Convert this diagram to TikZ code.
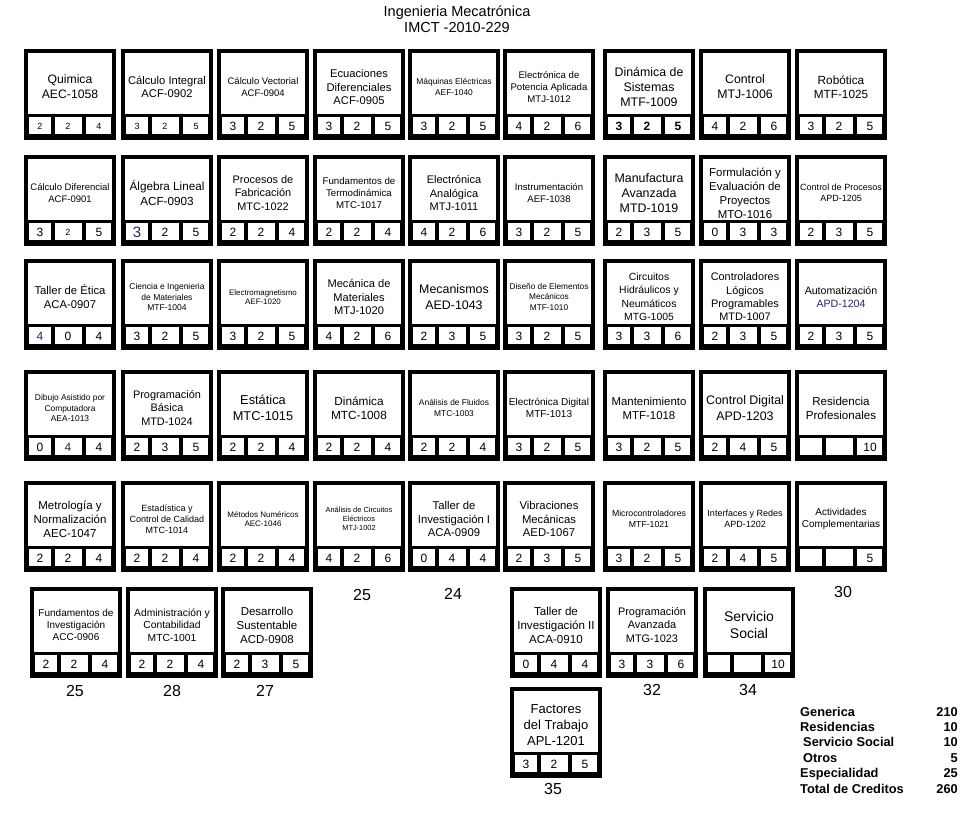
\documentclass[tikz,border=0pt]{standalone}
\usepackage{fontspec}
\setmainfont{Liberation Sans}
\definecolor{tinta}{RGB}{30,40,110}

\tikzset{
  boxtext/.style={align=center, inner sep=0pt},
  cellnum/.style={font=\fontsize{12pt}{13pt}\selectfont, inner sep=0pt},
  total/.style={font=\fontsize{16pt}{18pt}\selectfont, inner sep=0pt},
  legend/.style={font=\bfseries\fontsize{12.8pt}{14pt}\selectfont, inner sep=0pt},
}

\newcommand{\chico}[1]{{\fontsize{9pt}{10pt}\selectfont #1}}

% #1 name, #2 x, #3 y, #4 font size, #5 text, #6-#8 credits
\newcommand{\materia}[8]{%
  \fill (#2,#3) rectangle ++(92,91);
  \fill[white] (#2+4,#3+4) rectangle (#2+88,#3+65);
  \fill[white] (#2+5,#3+68) rectangle (#2+27,#3+85);
  \fill[white] (#2+31,#3+68) rectangle (#2+58,#3+85);
  \fill[white] (#2+62,#3+68) rectangle (#2+87,#3+85);
  \node[boxtext, font=\fontsize{#4pt}{\dimexpr #4pt*122/100\relax}\selectfont] (#1) at (#2+46,#3+38) {#5};
  \node[cellnum] (#1-a) at (#2+16,#3+77) {#6};
  \node[cellnum] (#1-b) at (#2+44,#3+77) {#7};
  \node[cellnum] (#1-c) at (#2+75,#3+77) {#8};
}

\begin{document}
\begin{tikzpicture}[x=1pt, y=-1pt]
  \useasboundingbox (0,0) rectangle (973,815);

  \node[font=\fontsize{14.5pt}{16pt}\selectfont, align=center] (titulo) at (457,19) {Ingenieria Mecatrónica\\IMCT -2010-229};

  % semestre 1
  \materia{qui}{24}{49}{12.2}{Quimica\\AEC-1058}{\chico{2}}{\chico{2}}{\chico{4}}
  \materia{cint}{121}{49}{11.2}{Cálculo Integral\\ACF-0902}{\chico{3}}{\chico{2}}{\chico{5}}
  \materia{cvec}{217}{49}{9.5}{Cálculo Vectorial\\ACF-0904}{3}{2}{5}
  \materia{ecd}{313}{49}{11.2}{Ecuaciones\\Diferenciales\\ACF-0905}{3}{2}{5}
  \materia{maq}{408}{49}{8.4}{Máquinas Eléctricas\\AEF-1040}{3}{2}{5}
  \materia{epot}{503}{49}{9.6}{Electrónica de\\Potencia Aplicada\\MTJ-1012}{4}{2}{6}
  \materia{dsis}{603}{49}{12.4}{Dinámica de\\Sistemas\\MTF-1009}{\textbf{3}}{\textbf{2}}{\textbf{5}}
  \materia{ctrl}{699}{49}{12.3}{Control\\MTJ-1006}{4}{2}{6}
  \materia{robo}{795}{49}{11.8}{Robótica\\MTF-1025}{3}{2}{5}

  % semestre 2
  \materia{cdif}{24}{155}{9.5}{Cálculo Diferencial\\ACF-0901}{3}{\chico{2}}{5}
  \materia{alg}{121}{155}{11.7}{Álgebra Lineal\\ACF-0903}{\textcolor{tinta}{\fontsize{15pt}{16pt}\selectfont 3}}{2}{5}
  \materia{pfab}{217}{155}{10.9}{Procesos de\\Fabricación\\MTC-1022}{2}{2}{4}
  \materia{term}{313}{155}{9.7}{Fundamentos de\\Termodinámica\\MTC-1017}{2}{2}{4}
  \materia{eana}{408}{155}{11}{Electrónica\\Analógica\\MTJ-1011}{4}{2}{6}
  \materia{inst}{503}{155}{9.6}{Instrumentación\\AEF-1038}{3}{2}{5}
  \materia{manu}{603}{155}{12.4}{Manufactura\\Avanzada\\MTD-1019}{2}{3}{5}
  \materia{form}{699}{155}{11.4}{Formulación y\\Evaluación de\\Proyectos\\MTO-1016}{0}{3}{3}
  \materia{cpro}{795}{155}{9}{Control de Procesos\\APD-1205}{2}{3}{5}

  % semestre 3
  \materia{etic}{24}{259}{11.3}{Taller de Ética\\ACA-0907}{\textcolor{tinta}{4}}{0}{4}
  \materia{cmat}{121}{259}{8.5}{Ciencia e Ingenieria\\de Materiales\\MTF-1004}{3}{2}{5}
  \materia{emag}{217}{259}{7.9}{Electromagnetismo\\AEF-1020}{3}{2}{5}
  \materia{mmat}{313}{259}{11.1}{Mecánica de\\Materiales\\MTJ-1020}{4}{2}{6}
  \materia{meca}{408}{259}{12.4}{Mecanismos\\AED-1043}{2}{3}{5}
  \materia{dele}{503}{259}{8.3}{Diseño de Elementos\\Mecánicos\\MTF-1010}{3}{2}{5}
  \materia{chid}{603}{259}{10.4}{Circuitos\\[0.8pt]Hidráulicos y\\[0.8pt]Neumáticos\\[0.8pt]MTG-1005}{3}{3}{6}
  \materia{plc}{699}{259}{10.9}{Controladores\\Lógicos\\Programables\\MTD-1007}{2}{3}{5}
  \materia{auto}{795}{259}{10.6}{Automatización\\\textcolor{tinta}{APD-1204}}{2}{3}{5}

  % semestre 4
  \materia{dibu}{24}{370}{8.4}{Dibujo Asistido por\\Computadora\\AEA-1013}{0}{\textcolor{tinta}{4}}{4}
  \materia{prog}{121}{370}{10.9}{Programación\\Básica\\MTD-1024}{2}{3}{5}
  \materia{esta}{217}{370}{12.8}{Estática\\MTC-1015}{2}{2}{4}
  \materia{dina}{313}{370}{11.8}{Dinámica\\MTC-1008}{2}{2}{4}
  \materia{flui}{408}{370}{8.4}{Análisis de Fluidos\\MTC-1003}{2}{2}{4}
  \materia{edig}{503}{370}{10}{Electrónica Digital\\MTF-1013}{3}{2}{5}
  \materia{mant}{603}{370}{11.4}{Mantenimiento\\MTF-1018}{3}{2}{5}
  \materia{cdig}{699}{370}{12.4}{Control Digital\\APD-1203}{2}{4}{5}
  \materia{resi}{795}{370}{11.6}{Residencia\\Profesionales}{}{}{10}

  % semestre 5
  \materia{metr}{24}{481}{11.5}{Metrología y\\Normalización\\AEC-1047}{2}{2}{4}
  \materia{estc}{121}{481}{9}{Estadística y\\Control de Calidad\\MTC-1014}{2}{2}{4}
  \materia{mnum}{217}{481}{8}{Métodos Numéricos\\AEC-1046}{2}{2}{4}
  \materia{acir}{313}{481}{7.4}{Análisis de Circuitos\\Eléctricos\\MTJ-1002}{4}{2}{6}
  \materia{tinv}{408}{481}{11.3}{Taller de\\Investigación I\\ACA-0909}{0}{4}{4}
  \materia{vibr}{503}{481}{11.3}{Vibraciones\\Mecánicas\\AED-1067}{2}{3}{5}
  \materia{micr}{603}{481}{8.7}{Microcontroladores\\MTF-1021}{3}{2}{5}
  \materia{redes}{699}{481}{9}{Interfaces y Redes\\APD-1202}{2}{4}{5}
  \materia{acti}{795}{481}{10}{Actividades\\Complementarias}{}{}{5}

  % semestre 6 y 7
  \materia{finv}{30}{587}{10}{Fundamentos de\\Investigación\\ACC-0906}{2}{2}{4}
  \materia{admi}{126}{587}{10.3}{Administración y\\Contabilidad\\MTC-1001}{2}{2}{4}
  \materia{dsus}{221}{587}{11.5}{Desarrollo\\Sustentable\\ACD-0908}{2}{3}{5}
  \materia{tinvb}{510}{587}{11.6}{Taller de\\Investigación II\\ACA-0910}{0}{4}{4}
  \materia{pava}{606}{587}{10.9}{Programación\\Avanzada\\MTG-1023}{3}{3}{6}
  \materia{serv}{703}{587}{14}{Servicio\\Social}{}{}{10}
  \materia{fact}{510}{687}{13}{Factores\\del Trabajo\\APL-1201}{3}{2}{5}

  % creditos por semestre
  \node[total] (t4) at (362,595) {25};
  \node[total] (t5) at (453,594) {24};
  \node[total] (t9) at (843,592) {30};
  \node[total] (t1) at (75,691) {25};
  \node[total] (t2) at (172,691) {28};
  \node[total] (t3) at (265,691) {27};
  \node[total] (t7) at (652,690) {32};
  \node[total] (t8) at (748,690) {34};
  \node[total] (t6) at (553,789) {35};

  % resumen
  \node[legend, anchor=base west] (gen) at (800,716) {Generica};
  \node[legend, anchor=base west] (res) at (800,731) {Residencias};
  \node[legend, anchor=base west] (ss) at (803,746) {Servicio Social};
  \node[legend, anchor=base west] (otr) at (803,762) {Otros};
  \node[legend, anchor=base west] (esp) at (800,777) {Especialidad};
  \node[legend, anchor=base west] (tot) at (800,793) {Total de Creditos};
  \node[legend, anchor=base east] (gen-v) at (958,716) {210};
  \node[legend, anchor=base east] (res-v) at (958,731) {10};
  \node[legend, anchor=base east] (ss-v) at (958,746) {10};
  \node[legend, anchor=base east] (otr-v) at (958,762) {5};
  \node[legend, anchor=base east] (esp-v) at (958,777) {25};
  \node[legend, anchor=base east] (tot-v) at (958,793) {260};
\end{tikzpicture}
\end{document}
